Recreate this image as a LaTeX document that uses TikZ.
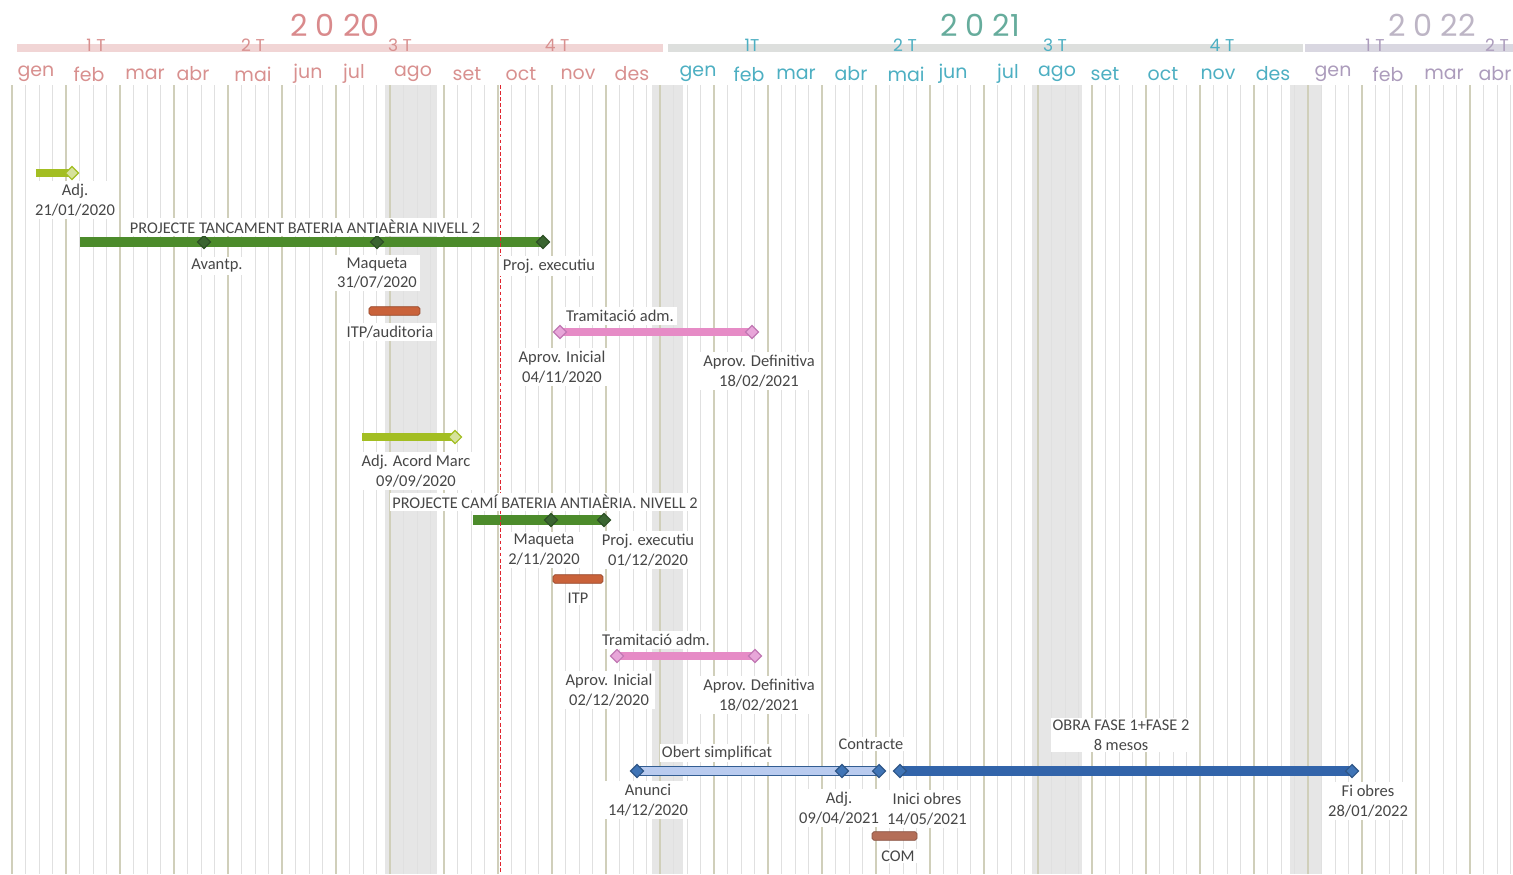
\documentclass[tikz,border=0pt]{standalone}
\usepackage{fontspec}
\setmainfont{Carlito}
\newfontfamily\hdrfont{Poppins}
\usetikzlibrary{shapes.geometric}

\definecolor{yr20}{HTML}{D98A8C}
\definecolor{yr21}{HTML}{66AC9C}
\definecolor{yr22}{HTML}{BDB5C5}
\definecolor{mo20}{HTML}{D8908F}
\definecolor{mo21}{HTML}{4DAFC2}
\definecolor{mo22}{HTML}{AC9CBC}
\definecolor{band20}{HTML}{F1D5D5}
\definecolor{band21}{HTML}{DDDFDD}
\definecolor{band22}{HTML}{D9D7E1}
\definecolor{monthline}{HTML}{D0CFBA}
\definecolor{weekline}{HTML}{E0E0E0}
\definecolor{holiday}{HTML}{E6E6E6}
\definecolor{lgreen}{HTML}{A3BE22}
\definecolor{dgreen}{HTML}{4C8B2B}
\definecolor{dgreenms}{HTML}{3A6530}
\definecolor{pinkbar}{HTML}{E68BC6}
\definecolor{pinkl}{HTML}{E8A6D9}
\definecolor{pinkd}{HTML}{C278B4}
\definecolor{bluebar}{HTML}{3264AA}
\definecolor{bluems}{HTML}{3F74B6}
\definecolor{bluelt}{HTML}{B9CBEF}
\definecolor{orangebar}{HTML}{C9623A}
\definecolor{combar}{HTML}{B46E58}
\definecolor{today}{HTML}{E0252F}

\pgfdeclarelayer{grid}
\pgfdeclarelayer{bars}
\pgfsetlayers{grid,bars,main}

\tikzset{
  lbl/.style={fill=white, inner sep=1.5pt, align=center, text=black!72,
    font=\fontsize{8.7}{10.5}\selectfont},
  ttl/.style={fill=white, inner sep=1pt, align=center, text=black!72,
    font=\fontsize{8.6}{10.5}\selectfont},
  ms/.style={diamond, draw, inner sep=0pt, minimum size=0.25cm, line width=0.6pt},
  lgms/.style={ms, draw=lgreen, fill=lgreen!45},
  dgms/.style={ms, draw=dgreenms!80!black, fill=dgreenms},
  pkms/.style={ms, draw=pinkd, fill=pinkl},
  blms/.style={ms, draw=bluems!75!black, fill=bluems},
  itpbox/.style={draw=#1!75!black, fill=#1, rounded corners=1pt, inner sep=0pt,
    minimum height=0.16cm},
  yr/.style={font=\hdrfont\fontsize{16}{16}\selectfont},
  qt/.style={font=\hdrfont\fontsize{9}{9}\selectfont},
  mo/.style={font=\hdrfont\fontsize{10}{10}\selectfont}
}

\begin{document}
\begin{tikzpicture}
    \useasboundingbox (-0.222,0) rectangle (27.796,-16.185);

    % calendar grid
    \begin{pgfonlayer}{grid}
    \fill[holiday] (6.91,-1.574) rectangle (7.87,-16.185);
    \fill[holiday] (11.85,-1.574) rectangle (12.43,-16.185);
    \fill[holiday] (18.89,-1.574) rectangle (19.81,-16.185);
    \fill[holiday] (23.67,-1.574) rectangle (24.26,-16.185);
    \foreach \m in {0,...,27} {
        \foreach \w in {0.25,0.5,0.75}
            \draw[weekline, line width=0.45pt] (\m+\w,-1.574) -- (\m+\w,-16.185);
        \draw[monthline, line width=0.8pt] (\m,-1.574) -- (\m,-16.185);
    }
    \end{pgfonlayer}

    % header
    \fill[band20] (0.093,-0.81) rectangle (12.056,-0.97);
    \fill[band21] (12.148,-0.81) rectangle (23.907,-0.97);
    \fill[band22] (23.944,-0.81) rectangle (27.796,-0.97);
    \node[yr, text=yr20] (y20) at (5.981,-0.463) {2 0 20};
    \node[yr, text=yr21] (y21) at (17.926,-0.463) {2 0 21};
    \node[yr, text=yr22] (y22) at (26.296,-0.463) {2 0 22};
    \foreach \x/\q in {1.556/1 T,4.463/2 T,7.185/3 T,10.093/4 T}
        \node[qt, text=mo20] (q20-\x) at (\x,-0.84) {\q};
    \foreach \x/\q in {13.704/1T,16.537/2 T,19.315/3 T,22.407/4 T}
        \node[qt, text=mo21] (q21-\x) at (\x,-0.84) {\q};
    \foreach \x/\q in {25.241/1 T,27.5/2 T}
        \node[qt, text=mo22] (q22-\x) at (\x,-0.84) {\q};
    \foreach \x/\t in {0.444/gen,1.426/feb,2.463/mar,3.352/abr,4.463/mai,5.481/jun,
        6.333/jul,7.426/ago,8.426/set,9.426/oct,10.481/nov,11.481/des}
        \node[mo, text=mo20] (m20-\t) at (\x,-1.37) {\t};
    \foreach \x/\t in {12.704/gen,13.648/feb,14.519/mar,15.537/abr,16.556/mai,17.426/jun,
        18.444/jul,19.352/ago,20.241/set,21.315/oct,22.333/nov,23.352/des}
        \node[mo, text=mo21] (m21-\t) at (\x,-1.37) {\t};
    \foreach \x/\t in {24.463/gen,25.481/feb,26.519/mar,27.463/abr}
        \node[mo, text=mo22] (m22-\t) at (\x,-1.37) {\t};

    % milestones
    \coordinate (adjs) at (0.444,-3.204);
    \node[lgms] (adj1) at (1.111,-3.204) {};
    \coordinate (p1s) at (1.259,-4.481);
    \node[dgms] (avantp) at (3.556,-4.481) {};
    \node[dgms] (maq1) at (6.759,-4.481) {};
    \node[dgms] (pexe1) at (9.833,-4.481) {};
    \node[pkms] (ai1) at (10.148,-6.148) {};
    \node[pkms] (ad1) at (13.704,-6.148) {};
    \coordinate (acs) at (6.481,-8.093);
    \node[lgms] (acord) at (8.204,-8.093) {};
    \coordinate (p2s) at (8.537,-9.630);
    \node[dgms] (maq2) at (9.981,-9.630) {};
    \node[dgms] (pexe2) at (10.963,-9.630) {};
    \node[pkms] (ai2) at (11.204,-12.148) {};
    \node[pkms] (ad2) at (13.759,-12.148) {};
    \node[blms] (anunci) at (11.574,-14.278) {};
    \node[blms] (adj3) at (15.370,-14.278) {};
    \node[blms] (contr) at (16.056,-14.278) {};
    \node[blms] (inici) at (16.444,-14.278) {};
    \node[blms] (fi) at (24.815,-14.278) {};

    % short tasks
    \node[itpbox=orangebar, minimum width=0.944cm] (itp1) at (7.083,-5.759) {};
    \node[itpbox=orangebar, minimum width=0.926cm] (itp2) at (10.481,-10.722) {};
    \node[itpbox=combar, minimum width=0.833cm] (com) at (16.343,-15.481) {};

    % bars
    \begin{pgfonlayer}{bars}
    \draw[lgreen, line width=0.15cm] (adjs) -- (adj1.center);
    \draw[dgreen, line width=0.18cm] (p1s) -- (pexe1.center);
    \draw[pinkbar, line width=0.16cm] (ai1.center) -- (ad1.center);
    \draw[lgreen, line width=0.16cm] (acs) -- (acord.center);
    \draw[dgreen, line width=0.18cm] (p2s) -- (pexe2.center);
    \draw[pinkbar, line width=0.16cm] (ai2.center) -- (ad2.center);
    \draw[bluems!80!black, fill=bluelt, line width=0.6pt]
        ([yshift=0.09cm]anunci.center) rectangle ([yshift=-0.09cm]contr.center);
    \draw[bluebar, line width=0.18cm] (inici.center) -- (fi.center);
    \draw[today, line width=0.6pt, dash pattern=on 2pt off 1.2pt]
        (9.04,-1.574) -- (9.04,-16.185);
    \end{pgfonlayer}

    % labels
    \node[lbl] (adj1-l) at (1.167,-3.704) {Adj.\\21/01/2020};
    \node[ttl] (p1-t) at (5.426,-4.204) {PROJECTE TANCAMENT BATERIA ANTIAÈRIA NIVELL 2};
    \node[lbl] (avantp-l) at (3.796,-4.926) {Avantp.};
    \node[lbl] (maq1-l) at (6.759,-5.056) {Maqueta\\31/07/2020};
    \node[lbl] (pexe1-l) at (9.944,-4.926) {Proj. executiu};
    \node[lbl] (itp1-l) at (7.0,-6.148) {ITP/auditoria};
    \node[lbl] (tr1-t) at (11.259,-5.852) {Tramitació adm.};
    \node[lbl] (ai1-l) at (10.185,-6.796) {Aprov. Inicial\\04/11/2020};
    \node[lbl] (ad1-l) at (13.833,-6.870) {Aprov. Definitiva\\18/02/2021};
    \node[lbl] (acord-l) at (7.481,-8.722) {Adj. Acord Marc\\09/09/2020};
    \node[ttl] (p2-t) at (9.870,-9.296) {PROJECTE CAMÍ BATERIA ANTIAÈRIA. NIVELL 2};
    \node[lbl] (maq2-l) at (9.852,-10.185) {Maqueta\\2/11/2020};
    \node[lbl] (pexe2-l) at (11.778,-10.185) {Proj. executiu\\01/12/2020};
    \node[ttl] (itp2-l) at (10.481,-11.074) {ITP};
    \node[lbl] (tr2-t) at (11.926,-11.852) {Tramitació adm.};
    \node[lbl] (ai2-l) at (11.056,-12.778) {Aprov. Inicial\\02/12/2020};
    \node[lbl] (ad2-l) at (13.833,-12.870) {Aprov. Definitiva\\18/02/2021};
    \node[ttl] (obert-t) at (13.056,-13.944) {Obert simplificat};
    \node[ttl] (contr-l) at (15.907,-13.778) {Contracte};
    \node[ttl] (obra-t) at (20.537,-13.611) {OBRA FASE 1+FASE 2\\8 mesos};
    \node[lbl] (anunci-l) at (11.778,-14.815) {Anunci\\14/12/2020};
    \node[lbl] (adj3-l) at (15.315,-14.963) {Adj.\\09/04/2021};
    \node[lbl] (inici-l) at (16.944,-14.981) {Inici obres\\14/05/2021};
    \node[lbl] (fi-l) at (25.111,-14.833) {Fi obres\\28/01/2022};
    \node[ttl] (com-l) at (16.407,-15.852) {COM};
\end{tikzpicture}
\end{document}
